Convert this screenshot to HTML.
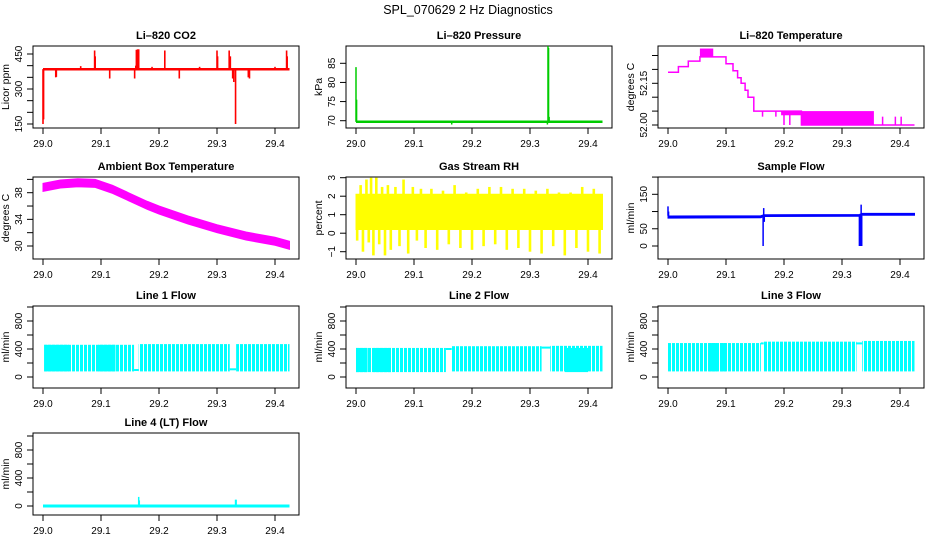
<!DOCTYPE html>
<html><head><meta charset="utf-8"><style>
html,body{margin:0;padding:0;background:#fff;}
svg{display:block;font-family:"Liberation Sans",Arial,sans-serif;}
</style></head><body>
<svg id="c" width="936" height="540" viewBox="0 0 936 540">
<defs><pattern id="stripes" width="4" height="10" patternUnits="userSpaceOnUse"><rect width="3" height="10" fill="#00ffff"/></pattern></defs>
<text x="468" y="14" text-anchor="middle" font-size="12.5">SPL_070629  2 Hz Diagnostics</text>
</svg>
<script>
// ---- data (day-of-month times) ----
const xTicks = [29.0, 29.1, 29.2, 29.3, 29.4];
const xTickLabels = ["29.0", "29.1", "29.2", "29.3", "29.4"];

const co2BaseT = [29.0, 29.425];
const co2BaseV = [385, 385];
const co2SpikeT = [29.000, 29.001, 29.022, 29.023, 29.065, 29.089, 29.090, 29.115, 29.158, 29.160, 29.161, 29.163, 29.165, 29.188, 29.210, 29.235, 29.270, 29.300, 29.301, 29.321, 29.323, 29.327, 29.329, 29.332, 29.354, 29.356, 29.400, 29.420, 29.421];
const co2SpikeV = [150, 170, 350, 352, 398, 465, 440, 345, 345, 400, 468, 470, 470, 395, 465, 345, 395, 465, 440, 465, 440, 345, 330, 150, 350, 345, 395, 465, 440];

const presBaseT = [29.0, 29.425];
const presBaseV = [69.7, 69.7];
const presSpikeT = [29.000, 29.001, 29.165, 29.330, 29.331, 29.332, 29.333];
const presSpikeV = [84, 75.5, 69.0, 69.0, 89.5, 89.0, 71.0];

const tempStepT = [29.0, 29.018, 29.018, 29.035, 29.035, 29.055, 29.055, 29.1, 29.1, 29.112, 29.112, 29.12, 29.12, 29.126, 29.126, 29.133, 29.133, 29.138, 29.138, 29.148, 29.148, 29.23, 29.23, 29.425];
const tempStepV = [52.19, 52.19, 52.21, 52.21, 52.23, 52.23, 52.245, 52.245, 52.22, 52.22, 52.195, 52.195, 52.17, 52.17, 52.15, 52.15, 52.125, 52.125, 52.1, 52.1, 52.05, 52.05, 52.0, 52.0];
const tempBandT0 = [29.055, 29.195, 29.23];
const tempBandT1 = [29.078, 29.23, 29.355];
const tempBandLo = [52.245, 52.035, 52.0];
const tempBandHi = [52.275, 52.05, 52.05];
const tempBlipT = [29.163, 29.186, 29.2, 29.21, 29.37, 29.392, 29.402];
const tempBlipA = [52.05, 52.05, 52.05, 52.05, 52.0, 52.0, 52.0];
const tempBlipB = [52.03, 52.03, 52.0, 52.0, 52.03, 52.03, 52.03];

const ambT = [29.0, 29.03, 29.06, 29.09, 29.12, 29.15, 29.18, 29.2, 29.25, 29.3, 29.35, 29.4, 29.425];
const ambMid = [38.8, 39.3, 39.5, 39.4, 38.5, 37.3, 36.1, 35.4, 33.9, 32.6, 31.5, 30.7, 30.1];
const ambHalf = [0.6, 0.6, 0.6, 0.6, 0.6, 0.6, 0.6, 0.6, 0.6, 0.6, 0.6, 0.6, 0.6];

const rhT = [29.0, 29.425];
const rhLo = [0.2, 0.2];
const rhHi = [2.1, 2.1];
const rhSpikeT = [29.002, 29.008, 29.012, 29.018, 29.022, 29.026, 29.03, 29.035, 29.04, 29.045, 29.05, 29.055, 29.06, 29.068, 29.075, 29.082, 29.09, 29.098, 29.105, 29.112, 29.12, 29.13, 29.14, 29.15, 29.16, 29.17, 29.18, 29.19, 29.2, 29.21, 29.22, 29.23, 29.24, 29.25, 29.26, 29.27, 29.28, 29.29, 29.3, 29.31, 29.32, 29.33, 29.34, 29.35, 29.36, 29.37, 29.38, 29.39, 29.4, 29.41, 29.42];
const rhSpikeV = [-0.4, 2.6, -1.0, 2.9, -0.5, 3.0, -1.2, 3.0, -0.6, 2.5, -1.2, 2.6, -0.9, 2.5, -0.7, 2.9, -1.1, 2.5, -0.4, 2.4, -0.8, 2.4, -0.9, 2.3, -0.6, 2.6, -0.8, 2.2, -0.9, 2.4, -0.7, 2.5, -0.6, 2.5, -0.9, 2.4, -0.8, 2.4, -1.0, 2.3, -1.1, 2.4, -0.7, 2.2, -1.2, 2.2, -0.8, 2.5, -1.0, 2.4, -1.1];

const sfT = [29.0, 29.16, 29.165, 29.33, 29.335, 29.425];
const sfV = [84, 85, 88, 89, 92, 92];
const sfHalf = [3, 3, 2.5, 2.5, 2.5, 2.5];
const sfSpikeT = [29.0, 29.001, 29.164, 29.165, 29.166, 29.330, 29.331, 29.332, 29.333, 29.334];
const sfSpikeV = [115, 100, 0, 110, 70, 0, 60, 0, 120, 0];

const l1SegT0 = [29.002, 29.165, 29.333];
const l1SegT1 = [29.157, 29.322, 29.425];
const l1SegLo = [80, 80, 80];
const l1SegHi = [460, 470, 470];
const l1SolidT0 = [29.002, 29.095];
const l1SolidT1 = [29.045, 29.125];
const l1FlatT0 = [29.157, 29.322];
const l1FlatT1 = [29.165, 29.333];
const l1FlatV = [100, 110];

const l2SegT0 = [29.0, 29.165, 29.335];
const l2SegT1 = [29.155, 29.32, 29.425];
const l2SegLo = [70, 80, 80];
const l2SegHi = [415, 440, 445];
const l2SolidT0 = [29.0, 29.03, 29.36];
const l2SolidT1 = [29.02, 29.06, 29.4];
const l2FlatT0 = [29.155, 29.32];
const l2FlatT1 = [29.165, 29.335];
const l2FlatV = [400, 420];

const l3SegT0 = [29.0, 29.165, 29.335];
const l3SegT1 = [29.16, 29.325, 29.425];
const l3SegLo = [80, 80, 80];
const l3SegHi = [485, 505, 515];
const l3SolidT0 = [29.07, 29.09];
const l3SolidT1 = [29.085, 29.1];
const l3FlatT0 = [29.16, 29.325];
const l3FlatT1 = [29.165, 29.335];
const l3FlatV = [480, 480];

const l4BaseT = [29.0, 29.425];
const l4BaseV = [0, 0];
const l4SpikeT = [29.165, 29.166, 29.332, 29.333];
const l4SpikeV = [130, 80, 90, 90];

// ---- layout ----
const NS = "http://www.w3.org/2000/svg";
const svg = document.getElementById('c');
function el(tag, attrs, parent){ const e = document.createElementNS(NS, tag); for (const k in attrs) e.setAttribute(k, attrs[k]); (parent||svg).appendChild(e); return e; }

function makePanel(key, title, ylab, x0, y0, vA, pA, vB, pB, yTicks, yLabels){
  const g = el('g', {});
  
  
  const W = 266, H = 82;
  const xs = t => x0 + 10 + (t - 29.0) * 580;
  const ys = v => pA + (v - vA) * (pB - pA) / (vB - vA);
  const t = el('text', {x: x0 + W/2, y: y0 - 7, 'text-anchor': 'middle', 'font-size': 11, 'font-weight': 'bold'}, g);
  t.textContent = title;
  
  
  const box = el('rect', {x: x0, y: y0, width: W, height: H, fill: 'none', stroke: '#000', 'stroke-width': 1}, g);
  
  
  const xa = el('g', {}, g);
  
  
  el('line', {x1: xs(xTicks[0]), x2: xs(xTicks[xTicks.length-1]), y1: y0+H, y2: y0+H, stroke: '#000'}, xa);
  xTicks.forEach((v, i) => {
    el('line', {x1: xs(v), x2: xs(v), y1: y0+H, y2: y0+H+6, stroke: '#000'}, xa);
    const tx = el('text', {x: xs(v), y: y0+H+19, 'text-anchor': 'middle', 'font-size': 10}, xa);
    tx.textContent = xTickLabels[i];
    
    
  });
  const ya = el('g', {}, g);
  
  
  el('line', {x1: x0, x2: x0, y1: ys(yTicks[0]), y2: ys(yTicks[yTicks.length-1]), stroke: '#000'}, ya);
  yTicks.forEach((v, i) => {
    el('line', {x1: x0-6, x2: x0, y1: ys(v), y2: ys(v), stroke: '#000'}, ya);
    if (yLabels[i]) {
      const ty = el('text', {x: 0, y: 0, 'text-anchor': 'middle', 'font-size': 10, transform: `translate(${x0-11},${ys(v)}) rotate(-90)`}, ya);
      ty.textContent = yLabels[i];
      
      
    }
  });
  const yt = el('text', {x: 0, y: 0, 'text-anchor': 'middle', 'font-size': 10.5, transform: `translate(${x0-24},${y0+H/2}) rotate(-90)`}, g);
  yt.textContent = ylab;
  
  
  const clipId = 'clip-' + key;
  const cp = el('clipPath', {id: clipId}, g);
  el('rect', {x: x0, y: y0, width: W, height: H}, cp);
  const data = el('g', {'clip-path': `url(#${clipId})`}, g);
  
  
  return {g: data, xs, ys};
}
function poly(p, T, V, color, w){
  const pts = T.map((t, i) => p.xs(t).toFixed(1) + ',' + p.ys(V[i]).toFixed(1)).join(' ');
  const e = el('polyline', {points: pts, fill: 'none', stroke: color, 'stroke-width': w}, p.g);
  
  
}
function spikes(p, T, V, base, color, w){
  T.forEach((t, i) => {
    const b = Array.isArray(base) ? base[i] : base;
    const e = el('line', {x1: p.xs(t), x2: p.xs(t), y1: p.ys(b), y2: p.ys(V[i]), stroke: color, 'stroke-width': w}, p.g);
    
    
  });
}
function band(p, T, lo, hi, color){
  const pts = T.map((t, i) => p.xs(t).toFixed(1) + ',' + p.ys(hi[i]).toFixed(1))
    .concat(T.slice().reverse().map((t, j) => { const i = T.length-1-j; return p.xs(t).toFixed(1) + ',' + p.ys(lo[i]).toFixed(1); })).join(' ');
  const e = el('polygon', {points: pts, fill: color, stroke: color, 'stroke-width': 1}, p.g);
  
  
}
function rects(p, T0, T1, lo, hi, fill){
  T0.forEach((t, i) => {
    const l = Array.isArray(lo) ? lo[i] : lo, h = Array.isArray(hi) ? hi[i] : hi;
    const e = el('rect', {x: p.xs(t), y: p.ys(h), width: Math.max(1, p.xs(T1[i]) - p.xs(t)), height: p.ys(l) - p.ys(h), fill: fill}, p.g);
    
    
  });
}
function flats(p, T0, T1, V, color){
  T0.forEach((t, i) => {
    const e = el('line', {x1: p.xs(t), x2: p.xs(T1[i]), y1: p.ys(V[i]), y2: p.ys(V[i]), stroke: color, 'stroke-width': 2}, p.g);
    
    
  });
}

const X = [33, 346, 658];
const Y = [46, 177, 306, 433];

// CO2
let p = makePanel('co2', 'Li\u2013820 CO2', 'Licor ppm', X[0], Y[0], 150, 124, 450, 54,
  [150,200,250,300,350,400,450], ['150','','','300','','','450']);
poly(p, co2BaseT, co2BaseV, '#ff0000', 2.5);
spikes(p, co2SpikeT, co2SpikeV, 385, '#ff0000', 1.6);

// Pressure
p = makePanel('pressure', 'Li\u2013820 Pressure', 'kPa', X[1], Y[0], 70, 120.7, 85, 63.3,
  [70,75,80,85], ['70','75','80','85']);
poly(p, presBaseT, presBaseV, '#00cc00', 2.5);
spikes(p, presSpikeT, presSpikeV, 69.7, '#00cc00', 1.5);

// Li-820 temperature
p = makePanel('li-temp', 'Li\u2013820 Temperature', 'degrees C', X[2], Y[0], 52.0, 125, 52.15, 83.3,
  [52.0,52.05,52.1,52.15,52.2,52.25], ['52.00','','','52.15','','']);
poly(p, tempStepT, tempStepV, '#ff00ff', 1.5);
rects(p, tempBandT0, tempBandT1, tempBandLo, tempBandHi, '#ff00ff');
spikes(p, tempBlipT, tempBlipB, tempBlipA, '#ff00ff', 1.5);

// Ambient box temperature
p = makePanel('ambient-temp', 'Ambient Box Temperature', 'degrees C', X[0], Y[1], 30, 246, 38, 192.7,
  [30,32,34,36,38,40], ['30','','34','','38','']);
band(p, ambT, ambMid.map((m, i) => m - ambHalf[i]), ambMid.map((m, i) => m + ambHalf[i]), '#ff00ff');

// RH
p = makePanel('rh', 'Gas Stream RH', 'percent', X[1], Y[1], -1, 251.7, 3, 177.7,
  [-1,0,1,2,3], ['\u22121','0','1','2','3']);
band(p, rhT, rhLo, rhHi, '#ffff00');
spikes(p, rhSpikeT, rhSpikeV, 1.1, '#ffff00', 2.6);

// Sample flow
p = makePanel('sample-flow', 'Sample Flow', 'ml/min', X[2], Y[1], 0, 246, 150, 194.3,
  [0,50,100,150,200], ['0','50','','150','']);
band(p, sfT, sfV.map((v, i) => v - sfHalf[i]), sfV.map((v, i) => v + sfHalf[i]), '#0000ff');
spikes(p, sfSpikeT, sfSpikeV, 88, '#0000ff', 1.5);

const fTicks = [0,200,400,600,800,1000], fLabels = ['0','','400','','800',''];
function flowPanel(key, title, x0, y0, s){
  const q = makePanel(key, title, 'ml/min', x0, y0, 0, y0 + 71, 800, y0 + 15, fTicks, fLabels);
  rects(q, s[0], s[1], s[2], s[3], 'url(#stripes)');
  rects(q, s[4], s[5], s[2][0], s[3][0], '#00ffff');
  flats(q, s[6], s[7], s[8], '#00ffff');
  return q;
}
flowPanel('line1-flow', 'Line 1 Flow', X[0], Y[2], [l1SegT0, l1SegT1, l1SegLo, l1SegHi, l1SolidT0, l1SolidT1, l1FlatT0, l1FlatT1, l1FlatV]);
flowPanel('line2-flow', 'Line 2 Flow', X[1], Y[2], [l2SegT0, l2SegT1, l2SegLo, l2SegHi, l2SolidT0, l2SolidT1, l2FlatT0, l2FlatT1, l2FlatV]);
flowPanel('line3-flow', 'Line 3 Flow', X[2], Y[2], [l3SegT0, l3SegT1, l3SegLo, l3SegHi, l3SolidT0, l3SolidT1, l3FlatT0, l3FlatT1, l3FlatV]);

p = makePanel('line4-flow', 'Line 4 (LT) Flow', 'ml/min', X[0], Y[3], 0, 506, 800, 450, fTicks, fLabels);
poly(p, l4BaseT, l4BaseV, '#00ffff', 3);
spikes(p, l4SpikeT, l4SpikeV, 0, '#00ffff', 1.5);
</script>
</body></html>
